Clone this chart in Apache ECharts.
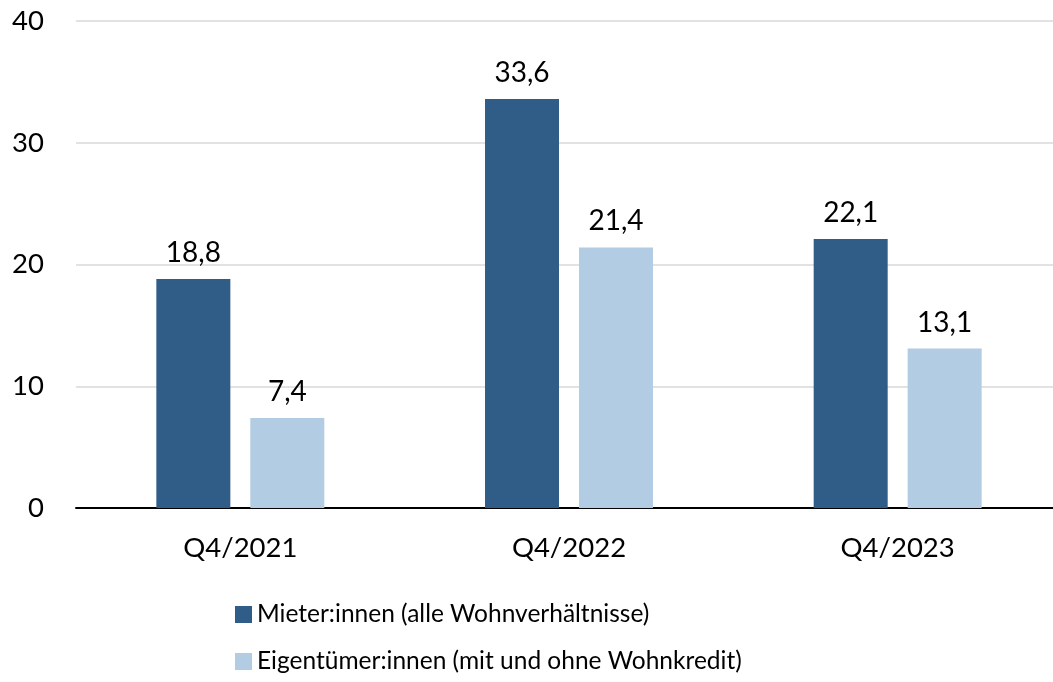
<!DOCTYPE html>
<html>
<head>
<meta charset="utf-8">
<script src="https://cdn.jsdelivr.net/npm/echarts@6/dist/echarts.min.js"></script>
<style>
  html, body { margin: 0; padding: 0; background: #fff; }
  #chart { width: 1053px; height: 682px; }
</style>
</head>
<body>
<div id="chart"></div>
<script>
// Quarters shown on the category axis
const categories = ['Q4/2021', 'Q4/2022', 'Q4/2023'];
// Series names and values (percent)
const seriesNames = ['Mieter:innen (alle Wohnverhältnisse)', 'Eigentümer:innen (mit und ohne Wohnkredit)'];
const mieter = [18.8, 33.6, 22.1];
const eigentuemer = [7.4, 21.4, 13.1];
// Value axis range
const yTicks = [0, 10, 20, 30, 40];

const FONT = 'Lato, "Open Sans", sans-serif';
const fmt = v => String(v).replace('.', ',');

const chart = echarts.init(document.getElementById('chart'), null, { renderer: 'canvas' });

const labelStyle = {
  show: true,
  position: 'top',
  distance: 12,
  color: '#000',
  fontSize: 28,
  fontFamily: FONT,
  formatter: p => fmt(p.value)
};

chart.setOption({
  animation: false,
  textStyle: { fontFamily: FONT },
  // the plot runs past the right edge of the canvas, so the last category is cut off there
  grid: { left: 76, width: 986, top: 21, height: 487, containLabel: false, outerBoundsMode: 'none' },
  legend: {
    orient: 'vertical',
    left: 230,
    top: 597,
    icon: 'rect',
    itemWidth: 17,
    itemHeight: 17,
    itemGap: 22,
    textStyle: { fontSize: 24.5, color: '#000', fontFamily: FONT },
    data: seriesNames
  },
  xAxis: {
    type: 'category',
    data: categories,
    axisLine: { lineStyle: { color: '#000', width: 2 } },
    axisTick: { show: false },
    axisLabel: { color: '#000', fontSize: 27.5, fontFamily: FONT, margin: 26 }
  },
  yAxis: {
    type: 'value',
    min: yTicks[0],
    max: yTicks[yTicks.length - 1],
    interval: 10,
    axisLine: { show: false },
    axisTick: { show: false },
    axisLabel: { color: '#000', fontSize: 27.5, fontFamily: FONT, margin: 32 },
    splitLine: { lineStyle: { color: '#d9d9d9', width: 1.5 } }
  },
  series: [
    {
      name: seriesNames[0],
      type: 'bar',
      data: mieter,
      barWidth: 74,
      barGap: '27%',
      itemStyle: { color: '#305D87' },
      label: labelStyle
    },
    {
      name: seriesNames[1],
      type: 'bar',
      data: eigentuemer,
      barWidth: 74,
      itemStyle: { color: '#B2CCE3' },
      label: labelStyle
    }
  ]
});
</script>
</body>
</html>
